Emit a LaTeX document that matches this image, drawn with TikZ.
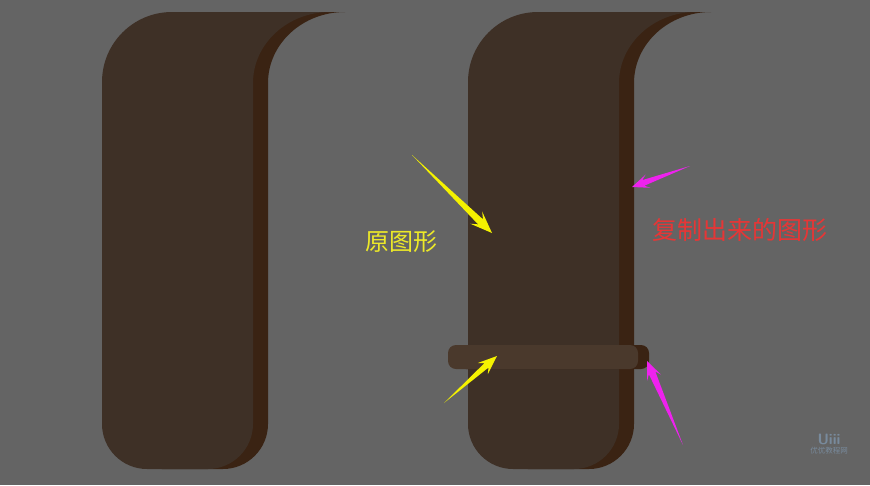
\documentclass[tikz,border=0pt]{standalone}
\usepackage{fontspec}
\newfontfamily\cjk{Noto Sans CJK SC}
\usetikzlibrary{calc}
\definecolor{bg}{HTML}{646464}
\definecolor{bodyc}{HTML}{3E3026}
\definecolor{darkc}{HTML}{3A2313}
\definecolor{bandc}{HTML}{4A392C}
\definecolor{yel}{HTML}{F5F200}
\definecolor{yeltxt}{HTML}{EDE928}
\definecolor{mag}{HTML}{EE22EE}
\definecolor{redtxt}{HTML}{E63636}
\definecolor{wm}{HTML}{788A9C}
\newcommand\flagshape[1]{\fill[#1] (102,82) .. controls (102,43.3) and (133.3,12) .. (172,12)
  -- (330,12) .. controls (287.5,12) and (253,43.8) .. (253,83)
  -- (253,424) .. controls (253,448.8) and (232.8,469) .. (208,469)
  -- (147,469) .. controls (122.2,469) and (102,448.8) .. (102,424) -- cycle;}
\newcommand\swoosh[7]{\fill[#3] (#2) -- ($(#2)!#4!(#1)!#5!90:(#1)$) -- ($(#2)!#6!(#1)!#7!90:(#1)$)
  -- (#1) -- ($(#2)!#6!(#1)!#7!-90:(#1)$) -- ($(#2)!#4!(#1)!#5!-90:(#1)$) -- cycle;}
\begin{document}
\begin{tikzpicture}[x=1pt,y=-1pt,
  lbl/.style={inner sep=0pt}]
\fill[bg] (0,0) rectangle (870,485);
\useasboundingbox (0,0) rectangle (870,485);
% left shape
\begin{scope}[xshift=15pt]\flagshape{darkc}\end{scope}
\flagshape{bodyc}
% right shape
\begin{scope}[xshift=381pt]\flagshape{darkc}\end{scope}
\begin{scope}[xshift=366pt]\flagshape{bodyc}\end{scope}
% band
\fill[darkc,rounded corners=8pt] (458,345) rectangle (649,369);
\fill[bandc,rounded corners=8pt] (448,345) rectangle (638,369);
% arrows
\coordinate (y1t) at (412,155); \coordinate (y1h) at (492,233);
\coordinate (y2t) at (444,403); \coordinate (y2h) at (497,356);
\coordinate (m1t) at (690,166); \coordinate (m1h) at (632,187);
\coordinate (m2t) at (683,445); \coordinate (m2h) at (647,361);
\swoosh{y1t}{y1h}{yel}{22pt}{8.5pt}{16pt}{3.5pt}
\swoosh{y2t}{y2h}{yel}{19pt}{7.5pt}{14pt}{3pt}
\swoosh{m1t}{m1h}{mag}{17pt}{7pt}{12pt}{3pt}
\swoosh{m2t}{m2h}{mag}{18pt}{7.5pt}{13pt}{3.5pt}
% labels
\node[lbl,text=yeltxt,font=\cjk\fontsize{24}{24}\selectfont] (orig) at (401,242) {原图形};
\node[lbl,text=redtxt,font=\cjk\fontsize{25}{25}\selectfont] (copy) at (740,230) {复制出来的图形};
% watermark
\node[inner sep=0pt,text=wm,font=\sffamily\bfseries\fontsize{15}{15}\selectfont] (wlogo) at (829,439) {Uiii};
\node[inner sep=0pt,text=wm,font=\cjk\fontsize{7.5}{7.5}\selectfont] (wtext) at (829,451) {优优教程网};
\end{tikzpicture}
\end{document}
